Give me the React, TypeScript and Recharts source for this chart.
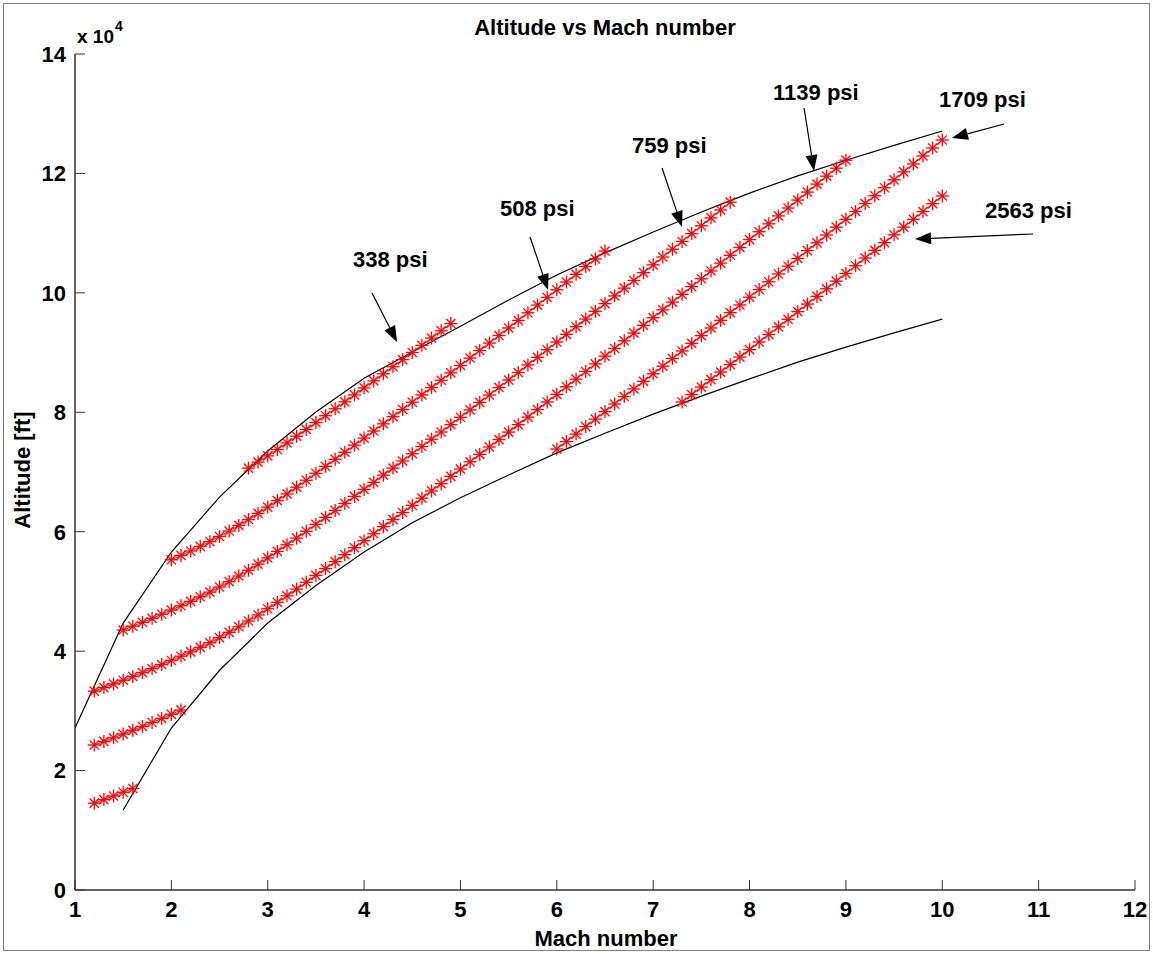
import React from 'react';
import { ScatterChart, Scatter, XAxis, YAxis, ReferenceLine, ReferenceDot } from 'recharts';

// Mach grid used by the red asterisk rows (step 0.1)
const MACH_GRID = [
  1.2, 1.3, 1.4, 1.5, 1.6, 1.7, 1.8, 1.9, 2.0, 2.1,
  2.2, 2.3, 2.4, 2.5, 2.6, 2.7, 2.8, 2.9, 3.0, 3.1,
  3.2, 3.3, 3.4, 3.5, 3.6, 3.7, 3.8, 3.9, 4.0, 4.1,
  4.2, 4.3, 4.4, 4.5, 4.6, 4.7, 4.8, 4.9, 5.0, 5.1,
  5.2, 5.3, 5.4, 5.5, 5.6, 5.7, 5.8, 5.9, 6.0, 6.1,
  6.2, 6.3, 6.4, 6.5, 6.6, 6.7, 6.8, 6.9, 7.0, 7.1,
  7.2, 7.3, 7.4, 7.5, 7.6, 7.7, 7.8, 7.9, 8.0, 8.1,
  8.2, 8.3, 8.4, 8.5, 8.6, 8.7, 8.8, 8.9, 9.0, 9.1,
  9.2, 9.3, 9.4, 9.5, 9.6, 9.7, 9.8, 9.9, 10.0,
];

// altitude [ft] of each constant-pressure row
const ALT_338 = [
  70650, 71660, 72700, 73770, 74870, 75990, 77130, 78280, 79430, 80590,
  81750, 82920, 84090, 85260, 86450, 87630, 88820, 90020, 91220, 92430,
  93640, 94860,
];
const ALT_508 = [
  55300, 56030, 56770, 57550, 58340, 59200, 60110, 61060, 62040, 63070,
  64120, 65210, 66330, 67460, 68620, 69790, 70950, 72130, 73310, 74490,
  75680, 76860, 78070, 79270, 80470, 81690, 82910, 84130, 85360, 86600,
  87840, 89080, 90340, 91590, 92850, 94120, 95380, 96660, 97950, 99230,
  100520, 101810, 103100, 104400, 105690, 107000,
];
const ALT_759 = [
  43530, 44170, 44830, 45490, 46180, 46880, 47600, 48340, 49100, 49880,
  50740, 51640, 52580, 53550, 54570, 55620, 56700, 57810, 58930, 60080,
  61240, 62400, 63570, 64730, 65910, 67090, 68270, 69470, 70650, 71850,
  73060, 74270, 75490, 76700, 77930, 79170, 80400, 81650, 82890, 84140,
  85400, 86660, 87930, 89200, 90480, 91760, 93050, 94330, 95610, 96900,
  98200, 99490, 100790, 102080, 103390, 104690, 106000, 107310, 108610, 109920,
  111240, 112560, 113880, 115190,
];
const ALT_1139 = [
  33300, 33900, 34510, 35130, 35760, 36410, 37070, 37750, 38440, 39150,
  39880, 40640, 41410, 42260, 43150, 44080, 45050, 46060, 47100, 48170,
  49270, 50390, 51530, 52680, 53830, 54990, 56150, 57320, 58490, 59660,
  60850, 62030, 63220, 64420, 65620, 66830, 68040, 69260, 70490, 71710,
  72950, 74190, 75430, 76680, 77930, 79190, 80460, 81730, 83000, 84280,
  85550, 86830, 88110, 89400, 90680, 91970, 93260, 94560, 95850, 97150,
  98450, 99750, 101050, 102360, 103670, 104980, 106290, 107600, 108920, 110240,
  111560, 112890, 114210, 115540, 116870, 118210, 119540, 120880, 122220,
];
const ALT_1709_LOW = [24280, 24880, 25490, 26110, 26740, 27390, 28050, 28730, 29420, 30130];
const ALT_1709_HIGH = [
  73850, 75100, 76350, 77600, 78860, 80120, 81380, 82640, 83910, 85180,
  86450, 87720, 89000, 90270, 91550, 92830, 94120, 95400, 96690, 97970,
  99270, 100560, 101860, 103160, 104460, 105760, 107070, 108380, 109690, 111000,
  112320, 113630, 114960, 116270, 117600, 118930, 120260, 121590, 122930, 124260,
  125600,
];
const ALT_2563_LOW = [14540, 15140, 15750, 16370, 17000];
const ALT_2563_HIGH = [
  81720, 82960, 84220, 85470, 86730, 87980, 89240, 90500, 91770, 93030,
  94310, 95570, 96850, 98120, 99410, 100680, 101970, 103250, 104540, 105830,
  107120, 108410, 109720, 111010, 112320, 113620, 114930, 116230,
];

// [values, first Mach on the grid]
const ROWS: [number[], number][] = [
  [ALT_338, 2.8],
  [ALT_508, 2.0],
  [ALT_759, 1.5],
  [ALT_1139, 1.2],
  [ALT_1709_LOW, 1.2],
  [ALT_1709_HIGH, 6.0],
  [ALT_2563_LOW, 1.2],
  [ALT_2563_HIGH, 7.3],
];

// envelope curves
const UPPER_MACH = [1, 1.5, 2, 2.5, 3, 3.5, 4, 4.5, 5, 5.5, 6, 6.5, 7, 7.5, 8, 8.5, 9, 9.5, 10];
const UPPER_ALT = [
  27130, 44700, 56600, 65800, 73520, 80050, 85700, 90100, 94400, 98800,
  103000, 106700, 110200, 113550, 116700, 119600, 122200, 124700, 127100,
];
const LOWER_MACH = [1.5, 2, 2.5, 3, 3.5, 4, 4.5, 5, 5.5, 6, 6.5, 7, 7.5, 8, 8.5, 9, 9.5, 10];
const LOWER_ALT = [
  13400, 27130, 36800, 44700, 51000, 56600, 61500, 65700, 69500, 73200,
  76500, 79700, 82700, 85600, 88400, 90900, 93300, 95600,
];

const X_TICKS = [1, 2, 3, 4, 5, 6, 7, 8, 9, 10, 11, 12];
const Y_TICKS = [0, 20000, 40000, 60000, 80000, 100000, 120000, 140000];

// annotations: label, label anchor, arrow tail, arrow tip (Mach, ft)
const PSI_LABELS = ['338 psi', '508 psi', '759 psi', '1139 psi', '1709 psi', '2563 psi'];
const LABEL_AT = [[3.885, 104330], [5.411, 112870], [6.78, 123420], [8.244, 132300], [9.966, 131130], [10.444, 112540]];
const ARROW_FROM = [[4.082, 99980], [5.722, 109360], [7.092, 120910], [8.566, 130960], [10.641, 128280], [10.942, 109860]];
const ARROW_TO = [[4.342, 91770], [5.909, 100480], [7.299, 111030], [8.669, 120400], [10.101, 125930], [9.717, 109020]];

const FONT = '"Liberation Sans", Arial, Helvetica, sans-serif';

const rowData = (alts: number[], start: number) => {
  const i0 = MACH_GRID.findIndex((m) => Math.abs(m - start) < 1e-6);
  return alts.map((alt, i) => ({ m: MACH_GRID[i0 + i], alt }));
};
const curveData = (ms: number[], alts: number[]) => ms.map((m, i) => ({ m, alt: alts[i] }));

const Asterisk = (props: any) => {
  const { cx, cy } = props;
  if (cx == null || cy == null) return <g />;
  const r = 6.5;
  const d = 4.6;
  return (
    <g stroke="#ff0000" strokeWidth={1.3}>
      <line x1={cx - r} y1={cy} x2={cx + r} y2={cy} />
      <line x1={cx} y1={cy - r} x2={cx} y2={cy + r} />
      <line x1={cx - d} y1={cy - d} x2={cx + d} y2={cy + d} />
      <line x1={cx - d} y1={cy + d} x2={cx + d} y2={cy - d} />
    </g>
  );
};

const NoDot = () => <g />;

const Arrow = (props: any) => {
  const { x1, y1, x2, y2 } = props;
  const dx = x2 - x1;
  const dy = y2 - y1;
  const len = Math.hypot(dx, dy) || 1;
  const ux = dx / len;
  const uy = dy / len;
  const hl = 16;
  const hw = 6;
  const bx = x2 - ux * hl;
  const by = y2 - uy * hl;
  const pts = `${x2},${y2} ${bx - uy * hw},${by + ux * hw} ${bx + uy * hw},${by - ux * hw}`;
  return (
    <g>
      <line x1={x1} y1={y1} x2={bx} y2={by} stroke="#000" strokeWidth={1.2} />
      <polygon points={pts} fill="#000" />
    </g>
  );
};

const labelShape = (text: string) => (props: any) => (
  <text x={props.cx} y={props.cy} fontSize={22} fontWeight="bold" fontFamily={FONT} fill="#000">
    {text}
  </text>
);

const App: React.FC = () => {
  const tickStyle = { fill: '#000', fontSize: 22, fontWeight: 'bold', fontFamily: FONT };
  return (
    <div style={{ position: 'absolute', left: 0, top: 0, width: 1153, height: 954, background: '#fff' }}>
      <ScatterChart width={1153} height={954} margin={{ top: 54, right: 18, bottom: 34, left: 15 }}>
        <XAxis
          type="number"
          dataKey="m"
          domain={[1, 12]}
          ticks={X_TICKS}
          interval={0}
          allowDataOverflow
          height={30}
          tickSize={-10}
          tickMargin={21}
          tick={tickStyle}
          axisLine={{ stroke: '#333', strokeWidth: 1.5 }}
          tickLine={{ stroke: '#333' }}
        />
        <YAxis
          type="number"
          dataKey="alt"
          domain={[0, 140000]}
          ticks={Y_TICKS}
          interval={0}
          allowDataOverflow
          width={60}
          tickSize={-10}
          tickMargin={19}
          tickFormatter={(v: number) => String(v / 10000)}
          tick={tickStyle}
          axisLine={{ stroke: '#333', strokeWidth: 1.5 }}
          tickLine={{ stroke: '#333' }}
        />
        <Scatter
          data={curveData(UPPER_MACH, UPPER_ALT)}
          shape={NoDot}
          line={{ stroke: '#000', strokeWidth: 1.2 }}
          isAnimationActive={false}
        />
        <Scatter
          data={curveData(LOWER_MACH, LOWER_ALT)}
          shape={NoDot}
          line={{ stroke: '#000', strokeWidth: 1.2 }}
          isAnimationActive={false}
        />
        {ROWS.map(([alts, start], k) => (
          <Scatter
            key={`row-${k}`}
            data={rowData(alts, start)}
            shape={Asterisk}
            line={{ stroke: '#ff0000', strokeWidth: 1 }}
            isAnimationActive={false}
          />
        ))}
        {PSI_LABELS.map((_, k) => (
          <ReferenceLine
            key={`arrow-${k}`}
            segment={[
              { x: ARROW_FROM[k][0], y: ARROW_FROM[k][1] },
              { x: ARROW_TO[k][0], y: ARROW_TO[k][1] },
            ]}
            shape={Arrow}
          />
        ))}
        {PSI_LABELS.map((text, k) => (
          <ReferenceDot key={`lbl-${k}`} x={LABEL_AT[k][0]} y={LABEL_AT[k][1]} shape={labelShape(text)} />
        ))}
      </ScatterChart>
      <svg
        width={1153}
        height={954}
        style={{ position: 'absolute', left: 0, top: 0, pointerEvents: 'none' }}
        fontFamily={FONT}
        fontWeight="bold"
      >
        <rect x={3.5} y={3.5} width={1146} height={947} fill="none" stroke="#808080" />
        <text x={605} y={35} fontSize={22} textAnchor="middle">Altitude vs Mach number</text>
        <text x={606} y={946} fontSize={22} textAnchor="middle">Mach number</text>
        <text transform="translate(30,470) rotate(-90)" fontSize={22} textAnchor="middle">Altitude [ft]</text>
        <text x={77} y={43} fontSize={19}>
          x 10
          <tspan dx={1} dy={-12} fontSize={14}>4</tspan>
        </text>
      </svg>
    </div>
  );
};

export default App;
